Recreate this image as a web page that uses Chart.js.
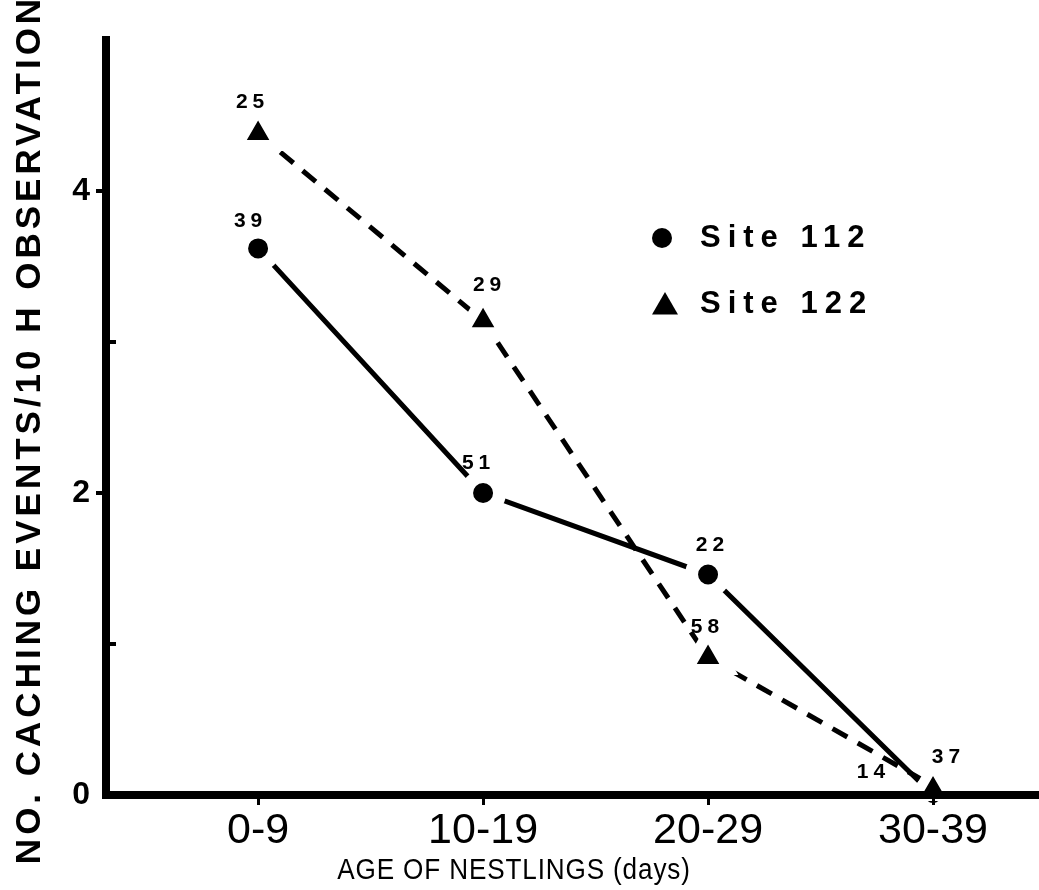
<!DOCTYPE html>
<html>
<head>
<meta charset="utf-8">
<title>Caching events by nestling age</title>
<script src="https://cdn.jsdelivr.net/npm/chart.js@4.4.1/dist/chart.umd.min.js"></script>
<style>
  html, body { margin: 0; padding: 0; background: #ffffff; }
  #wrap { width: 1039px; height: 890px; }
  canvas { display: block; }
</style>
</head>
<body>
<div id="wrap"><canvas id="chart" width="1039" height="890"></canvas></div>
<script>
// Age classes of nestlings (days)
const ageGroups = ['0-9', '10-19', '20-29', '30-39'];

// Caching events per 10 h of observation
const site112 = [3.62, 2.0, 1.46, 0.0];
const site122 = [4.38, 3.14, 0.91, 0.06];

// Hours-of-observation sample sizes printed beside each point
const site112N = [39, 51, 22, 37];
const site122N = [25, 29, 58, 14];

// Labelled values on the y axis, and all tick positions
const yTickLabels = [0, 2, 4];
const yTickMarks = [1, 2, 3, 4];

const seriesNames = ['Site 112', 'Site 122'];
const axisTitles = {
  x: 'AGE OF NESTLINGS (days)',
  y: 'NO. CACHING EVENTS/10 H OBSERVATION'
};

const FONT = '"Liberation Sans", Arial, Helvetica, sans-serif';
const INK = '#000000';

const toPoints = (vals) => vals.map((v, i) => ({ x: i, y: v }));

// Draws axis titles, the inline legend, sample-size labels and y tick marks
const figureText = {
  id: 'figureText',
  afterDraw(chart) {
    const ctx = chart.ctx;
    const area = chart.chartArea;
    const ys = chart.scales.y;

    // y tick marks: labelled ones point out, the others point in
    ctx.save();
    ctx.strokeStyle = INK;
    ctx.lineWidth = 4;
    const axisHalf = ys.options.border.width / 2;
    yTickMarks.forEach(v => {
      const py = ys.getPixelForValue(v);
      ctx.beginPath();
      if (yTickLabels.includes(v)) {
        ctx.moveTo(area.left - axisHalf, py);
        ctx.lineTo(area.left - axisHalf - 6, py);
      } else {
        ctx.moveTo(area.left + axisHalf, py);
        ctx.lineTo(area.left + axisHalf + 6, py);
      }
      ctx.stroke();
    });
    ctx.restore();

    // sample sizes beside the points
    chart.data.datasets.forEach((ds, di) => {
      const meta = chart.getDatasetMeta(di);
      ctx.save();
      ctx.fillStyle = INK;
      ctx.font = 'bold 21px ' + FONT;
      ctx.letterSpacing = '5px';
      ctx.textAlign = 'center';
      ctx.textBaseline = 'middle';
      meta.data.forEach((pt, i) => {
        const nudge = ds.labelNudge[i];
        ctx.fillText(String(ds.sampleSizes[i]), pt.x + nudge[0] + 2.5, pt.y + nudge[1]);
      });
      ctx.restore();
    });

    // legend inside the plot, in series-name order
    const legendX = area.left + 556;
    const legendY = [area.top + 198, area.top + 264];
    chart.data.datasets.forEach((ds) => {
      const row = seriesNames.indexOf(ds.label);
      const tri = ds.pointStyle === 'triangle';
      ctx.save();
      ctx.fillStyle = INK;
      Chart.helpers.drawPoint(ctx, {
        pointStyle: ds.pointStyle,
        radius: tri ? 15 : 10,
        borderWidth: 0,
        rotation: 0
      }, legendX + (tri ? 3 : 0), legendY[row] + (tri ? 3 : 0));
      ctx.font = 'bold 31px ' + FONT;
      ctx.letterSpacing = '7px';
      ctx.textAlign = 'left';
      ctx.textBaseline = 'middle';
      ctx.fillText(ds.label, legendX + 38, legendY[row]);
      ctx.restore();
    });

    // y axis title
    ctx.save();
    ctx.fillStyle = INK;
    ctx.translate(30, (area.top + area.bottom) / 2 + 12);
    ctx.rotate(-Math.PI / 2);
    ctx.font = 'bold 35px ' + FONT;
    ctx.letterSpacing = '4px';
    ctx.textAlign = 'center';
    ctx.textBaseline = 'middle';
    ctx.fillText(axisTitles.y, 0, 0);
    ctx.restore();

    // x axis title (slightly condensed face)
    ctx.save();
    ctx.fillStyle = INK;
    ctx.translate(514, area.bottom + 76);
    ctx.scale(0.87, 1);
    ctx.font = '30px ' + FONT;
    ctx.letterSpacing = '1px';
    ctx.textAlign = 'center';
    ctx.textBaseline = 'middle';
    ctx.fillText(axisTitles.x, 0, 0);
    ctx.restore();
  }
};

new Chart(document.getElementById('chart'), {
  type: 'line',
  data: {
    datasets: [
      {
        label: seriesNames[1],
        data: toPoints(site122),
        sampleSizes: site122N,
        labelNudge: [[-8, -31], [4, -36], [-3, -30], [-62, -14]],
        borderColor: INK,
        borderWidth: 5,
        borderDash: [17, 12],
        borderCapStyle: 'butt',
        pointStyle: 'triangle',
        pointRadius: [24, 24, 24, 20],
        pointBorderWidth: [11, 11, 11, 10],
        pointBackgroundColor: INK,
        pointBorderColor: '#ffffff',
        tension: 0,
        fill: false,
        clip: false,
        order: 0
      },
      {
        label: seriesNames[0],
        data: toPoints(site112),
        sampleSizes: site112N,
        labelNudge: [[-10, -27], [-7, -30], [2, -29], [13, -38]],
        borderColor: INK,
        borderWidth: 5,
        borderCapStyle: 'butt',
        pointStyle: 'circle',
        pointRadius: [16.5, 16.5, 16.5, 14],
        pointBorderWidth: [13, 13, 13, 12],
        pointBackgroundColor: INK,
        pointBorderColor: '#ffffff',
        tension: 0,
        fill: false,
        clip: false,
        order: 1
      }
    ]
  },
  options: {
    responsive: false,
    animation: false,
    events: [],
    devicePixelRatio: 1,
    layout: { autoPadding: false, padding: { top: 40, right: 0, bottom: 0, left: 0 } },
    plugins: {
      legend: { display: false },
      tooltip: { enabled: false },
      title: { display: false }
    },
    scales: {
      x: {
        type: 'linear',
        position: 'bottom',
        min: -0.676,
        max: 3.471,
        border: { display: true, color: INK, width: 8, z: 1 },
        grid: {
          display: true,
          drawOnChartArea: false,
          drawTicks: true,
          tickLength: 10,
          lineWidth: 3,
          color: INK,
          z: 1
        },
        afterBuildTicks: (scale) => {
          scale.ticks = ageGroups.map((_, i) => ({ value: i }));
        },
        ticks: {
          autoSkip: false,
          maxRotation: 0,
          padding: 0,
          color: INK,
          font: { family: FONT, size: 43 },
          callback: (v) => ageGroups[v]
        },
        afterFit: (scale) => { scale.height = 95; }
      },
      y: {
        type: 'linear',
        position: 'left',
        min: 0,
        max: 5,
        border: { display: true, color: INK, width: 8, z: 1 },
        grid: { display: false },
        afterBuildTicks: (scale) => {
          scale.ticks = yTickLabels.map(v => ({ value: v }));
        },
        ticks: {
          padding: 8,
          color: INK,
          font: { family: FONT, size: 32, weight: 'bold' },
          callback: (v) => String(v)
        },
        afterFit: (scale) => { scale.width = 106; }
      }
    }
  },
  plugins: [figureText]
});
</script>
</body>
</html>
